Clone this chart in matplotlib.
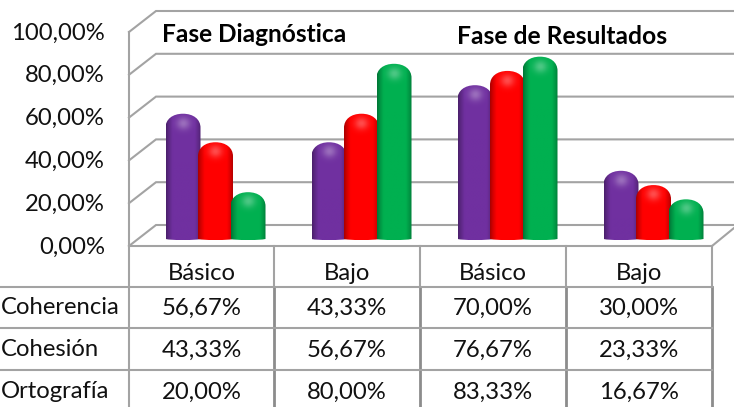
import numpy as np
import matplotlib
matplotlib.use("Agg")
import matplotlib.pyplot as plt
from matplotlib.path import Path
from matplotlib.patches import PathPatch

plt.rcParams['font.family'] = ['Lato', 'DejaVu Sans']

# data
categories = ["Básico", "Bajo", "Básico", "Bajo"]
coherencia = [56.67, 43.33, 70.00, 30.00]
cohesion = [43.33, 56.67, 76.67, 23.33]
ortografia = [20.00, 80.00, 83.33, 16.67]
series_names = ["Coherencia", "Cohesión", "Ortografía"]
y_ticks = [0, 20, 40, 60, 80, 100]

W, H = 734, 407
GREY = "#a3a3a3"
colors = ["#7030a0", "#ff0000", "#00b050"]
font = 17.2

fig = plt.figure(figsize=(W / 100, H / 100), dpi=100)

# frame, gridlines and table are drawn on a pixel axes
bg = fig.add_axes([0, 0, 1, 1])
bg.set_xlim(0, W)
bg.set_ylim(H, 0)
bg.axis("off")

back_zero, front_zero, unit = 225, 246, 2.14
for t in y_ticks:
    yb = back_zero - unit * t
    yf = front_zero - unit * t
    bg.plot([129, 156, W], [yf, yb, yb], color=GREY, lw=1.5, solid_joinstyle="miter")
    bg.text(105, yf + 1, f"{t},00%", ha="right", va="center", fontsize=font, color="#111111")

bg.plot([129, 129], [front_zero - unit * 100, H], color=GREY, lw=1.5)
bg.plot([129, 712], [front_zero, front_zero], color=GREY, lw=1.5)
bg.plot([712, W], [front_zero, 228], color=GREY, lw=1.5)

col_edges = [129, 274, 420, 566, 712]
for x in col_edges[1:]:
    bg.plot([x, x], [front_zero, 287], color=GREY, lw=1.5)
    bg.plot([x, x], [287, H], color="#8c8c8c", lw=2)
for y in [287, 328, 370]:
    bg.plot([0, 712], [y, y], color=GREY, lw=1.5)

table_rows = [coherencia, cohesion, ortografia]
row_y = [308, 350, 392]
for i, cat in enumerate(categories):
    cx = (col_edges[i] + col_edges[i + 1]) / 2
    bg.text(cx, 274, cat, ha="center", va="center", fontsize=font, color="#111111")
    for vals, y in zip(table_rows, row_y):
        bg.text(cx, y, f"{vals[i]:.2f}%".replace(".", ","), ha="center", va="center",
                fontsize=font, color="#111111")
for name, y in zip(series_names, row_y):
    bg.text(1, y, name, ha="left", va="center", fontsize=font, color="#111111")

bg.text(162, 35, "Fase Diagnóstica", ha="left", va="center", fontsize=17.6, fontweight="bold", color="black")
bg.text(457, 37, "Fase de Resultados", ha="left", va="center", fontsize=17.7, fontweight="bold", color="black")

# bars axes: x = category index, y = percent. The bars stand a bit below
# zero because of the 3d floor, so the axes goes below it
x_left, x_right, zero_px, bottom_px, cat_step = 131, 712, 235, 243, 146
first_center = 215.5
y_bottom = -(bottom_px - zero_px) / unit
top_px = zero_px - 100 * unit
ax = fig.add_axes([x_left / W, 1 - bottom_px / H, (x_right - x_left) / W, (bottom_px - top_px) / H])
ax.patch.set_alpha(0)
ax.axis("off")
xlim = ((x_left - first_center) / cat_step, (x_right - first_center) / cat_step)
ylim = (y_bottom, 100)


def bar_image(color, n_w=60, n_h=120, cap_frac=0.1):
    rgb = np.array(matplotlib.colors.to_rgb(color))
    u = np.linspace(0, 1, n_w)
    v = np.linspace(1, 0, n_h)
    uu, vv = np.meshgrid(u, v)
    shade = 0.6 + 0.4 * np.clip(np.sin(np.pi * np.clip(uu * 0.94 + 0.02, 0, 1)) * 1.7, 0, 1) ** 0.8
    img = rgb[None, None, :] * shade[..., None]
    dist = np.hypot((uu - 0.5) / 0.2, (vv - (1 - cap_frac * 0.7)) / (cap_frac * 0.45))
    glow = 0.3 * np.exp(-dist ** 2)
    return np.clip(img + (1 - img) * glow[..., None], 0, 1)


def draw_bar(x, value, color, z):
    w = 35 / cat_step
    cap = 14 / unit
    base = -4 / unit
    foot = base - 1.5 / unit
    l, r = x - w / 2, x + w / 2
    k = 0.6
    verts = [(l, value - cap),
             (l, value - cap + k * cap), (x - k * w / 2, value), (x, value),
             (x + k * w / 2, value), (r, value - cap + k * cap), (r, value - cap),
             (r, base),
             (r - 0.2 * w, foot), (l + 0.2 * w, foot), (l, base),
             (l, value - cap)]
    codes = [Path.MOVETO, Path.CURVE4, Path.CURVE4, Path.CURVE4,
             Path.CURVE4, Path.CURVE4, Path.CURVE4,
             Path.LINETO, Path.CURVE4, Path.CURVE4, Path.CURVE4, Path.CLOSEPOLY]
    patch = PathPatch(Path(verts, codes), facecolor="none", edgecolor="none", transform=ax.transData)
    ax.add_patch(patch)
    frac = cap / (value - foot)
    im = ax.imshow(bar_image(color, cap_frac=frac), extent=(l, r, foot, value), aspect="auto",
                   zorder=z, interpolation="bilinear")
    im.set_clip_path(patch)


offset = 32.5 / cat_step
for i in range(len(categories)):
    for j, vals in enumerate(table_rows):
        draw_bar(i + (j - 1) * offset, vals[i], colors[j], 3 + j)
ax.set_xlim(xlim)
ax.set_ylim(ylim)

fig.savefig("out.png", dpi=100)
